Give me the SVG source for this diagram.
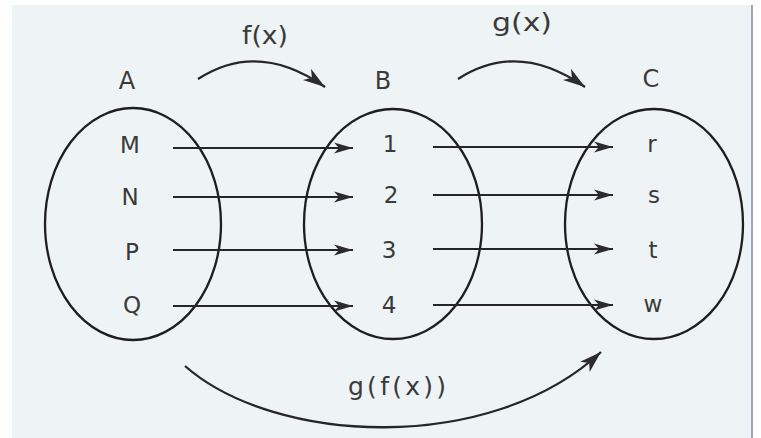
<svg xmlns="http://www.w3.org/2000/svg" width="761" height="438" viewBox="0 0 761 438">
<defs>
<marker id="ah" markerUnits="userSpaceOnUse" markerWidth="20" markerHeight="14" refX="19" refY="7" orient="auto">
<path d="M0,1.5 L19,7 L0,12.5 L5,7 z" fill="#2b2b2b"/>
</marker>
<marker id="ahc" markerUnits="userSpaceOnUse" markerWidth="24" markerHeight="18" refX="22" refY="9" orient="auto">
<path d="M0,2 L22,9 L0,16 L6,9 z" fill="#2b2b2b"/>
</marker>
<style>
.set{fill:none;stroke:#1e1e1e;stroke-width:2.3}
.lbl{font-family:"DejaVu Sans","Liberation Sans",sans-serif;font-size:24px;fill:#3a3a3a;text-anchor:middle}
.el{font-family:"DejaVu Sans","Liberation Sans",sans-serif;font-size:23px;fill:#3a3a3a;text-anchor:middle}
.fn{font-family:"DejaVu Sans","Liberation Sans",sans-serif;font-size:25px;fill:#3a3a3a;text-anchor:middle}
.arr{fill:none;stroke:#262626;stroke-width:1.9;marker-end:url(#ah)}
.curve{fill:none;stroke:#262626;stroke-width:2.3;marker-end:url(#ahc)}
</style>
</defs>
<rect x="0" y="0" width="761" height="438" fill="#ffffff"/>
<rect x="12" y="5" width="740" height="433" fill="#eef3f5"/>
<line x1="752" y1="5" x2="752" y2="438" stroke="#9ea7b8" stroke-width="2"/>

<g id="setA">
<ellipse class="set" cx="133" cy="224" rx="88" ry="116"/>
<text class="lbl" x="127" y="89">A</text>
<text class="el" x="130" y="153">M</text>
<text class="el" x="130" y="205">N</text>
<text class="el" x="132" y="260">P</text>
<text class="el" x="132" y="313">Q</text>
</g>

<g id="setB">
<ellipse class="set" cx="393" cy="224" rx="89" ry="115"/>
<text class="lbl" x="383" y="89">B</text>
<text class="el" x="390" y="152">1</text>
<text class="el" x="391" y="203">2</text>
<text class="el" x="389" y="258">3</text>
<text class="el" x="389" y="313">4</text>
</g>

<g id="setC">
<ellipse class="set" cx="654" cy="224" rx="89" ry="115"/>
<text class="lbl" x="651" y="87">C</text>
<text class="el" x="652" y="152">r</text>
<text class="el" x="654" y="203">s</text>
<text class="el" x="653" y="258">t</text>
<text class="el" x="653" y="312">w</text>
</g>

<g id="connectors">
<line class="arr" x1="173" y1="148" x2="353" y2="148"/>
<line class="arr" x1="173" y1="197" x2="353" y2="197"/>
<line class="arr" x1="173" y1="250" x2="353" y2="250"/>
<line class="arr" x1="173" y1="306" x2="353" y2="306"/>
<line class="arr" x1="433" y1="147" x2="613" y2="147"/>
<line class="arr" x1="433" y1="195" x2="613" y2="195"/>
<line class="arr" x1="433" y1="249" x2="613" y2="249"/>
<line class="arr" x1="433" y1="305" x2="613" y2="305"/>
<path class="curve" d="M198,79 Q258,40 325,87"/>
<path class="curve" d="M458,79 Q518,40 585,87"/>
<path class="curve" d="M185,366 C275,445 490,455 601,352"/>
<text class="fn" x="265" y="44" textLength="46" lengthAdjust="spacingAndGlyphs">f(x)</text>
<text class="fn" x="522" y="31" textLength="60" lengthAdjust="spacingAndGlyphs">g(x)</text>
<text class="fn" x="397" y="395" textLength="98" lengthAdjust="spacing">g(f(x))</text>
</g>
</svg>
